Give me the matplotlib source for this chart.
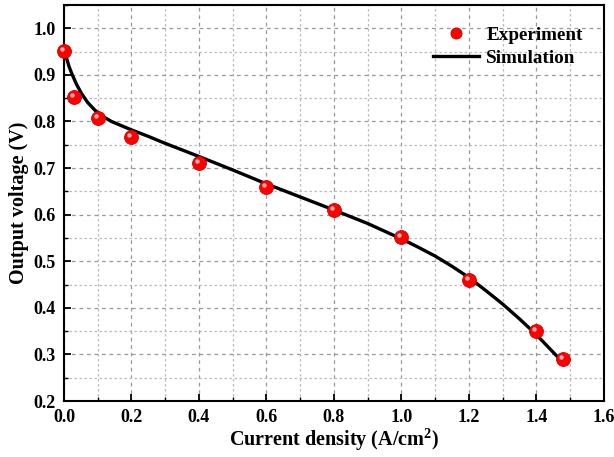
import numpy as np
import matplotlib.pyplot as plt
from matplotlib.ticker import MultipleLocator
from matplotlib.transforms import offset_copy

plt.rcParams['font.family'] = ['Liberation Serif', 'DejaVu Serif']
plt.rcParams['font.weight'] = 'bold'
plt.rcParams['mathtext.fontset'] = 'custom'
plt.rcParams['mathtext.rm'] = 'Liberation Serif:bold'
plt.rcParams['mathtext.bf'] = 'Liberation Serif:bold'

# experiment
exp_j = [0.0, 0.03, 0.1, 0.2, 0.4, 0.6, 0.8, 1.0, 1.2, 1.4, 1.48]
exp_v = [0.951, 0.853, 0.808, 0.766, 0.711, 0.660, 0.610, 0.551, 0.460, 0.350, 0.290]

# simulation
sim_j = [0.003, 0.008, 0.015, 0.023, 0.037, 0.052, 0.07, 0.092, 0.115, 0.141, 0.17,
         0.2, 0.25, 0.3, 0.35, 0.403, 0.5, 0.6, 0.7, 0.8, 0.9, 1.0, 1.05, 1.1,
         1.15, 1.2, 1.25, 1.3, 1.35, 1.39, 1.42, 1.445, 1.465]
sim_v = [0.949, 0.935, 0.918, 0.903, 0.880, 0.860, 0.841, 0.824, 0.811, 0.800, 0.791,
         0.782, 0.768, 0.753, 0.739, 0.724, 0.696, 0.666, 0.638, 0.610, 0.581, 0.548, 0.530, 0.511,
         0.489, 0.465, 0.437, 0.408, 0.376, 0.349, 0.327, 0.308, 0.293]

fig = plt.figure(figsize=(6.14, 4.57), dpi=100)
ax = fig.add_axes([0.1042, 0.1225, 0.8795, 0.8665])

ax.plot(sim_j, sim_v, color='black', lw=2.4, zorder=3, label='Simulation')
ax.plot(exp_j, exp_v, 'o', color='#ff0000', mec='#d00000', mew=0.6, ms=10,
        zorder=4, label='Experiment', clip_on=False)
hl = offset_copy(ax.transData, fig=fig, x=-1.5, y=1.5, units='points')
ax.plot(exp_j, exp_v, 'o', color='#ffb0b0', mec='none', ms=3.2, zorder=5,
        transform=hl, clip_on=False)

ax.set_xlim(0, 1.6)
ax.set_ylim(0.2, 1.05)
ax.xaxis.set_major_locator(MultipleLocator(0.2))
ax.xaxis.set_minor_locator(MultipleLocator(0.1))
ax.yaxis.set_major_locator(MultipleLocator(0.1))
ax.yaxis.set_minor_locator(MultipleLocator(0.05))
ax.tick_params(which='both', direction='in', top=False, right=False, labelsize=13)
ax.tick_params(which='major', length=5, width=1.3, pad=6)
ax.tick_params(which='minor', length=3, width=1.0)
ax.grid(which='major', color='#999999', ls=(0, (3, 3)), lw=0.9)
ax.grid(which='minor', color='#bbbbbb', ls=(0, (2, 2)), lw=0.9)
ax.set_axisbelow(True)
for s in ax.spines.values():
    s.set_linewidth(1.5)

ax.set_xlabel('Current density (A/cm$^{2}$)', fontsize=14.5, fontweight='bold', labelpad=0)
ax.set_ylabel('Output voltage (V)', fontsize=14.5, fontweight='bold', labelpad=3)

leg = ax.legend(loc='upper right', frameon=False, fontsize=13.8, handlelength=2.4,
                borderaxespad=0.7, handletextpad=0.4, labelspacing=0.3,
                handles=ax.get_lines()[1::-1], markerscale=0.8)

fig.savefig('out.png', dpi=100)
